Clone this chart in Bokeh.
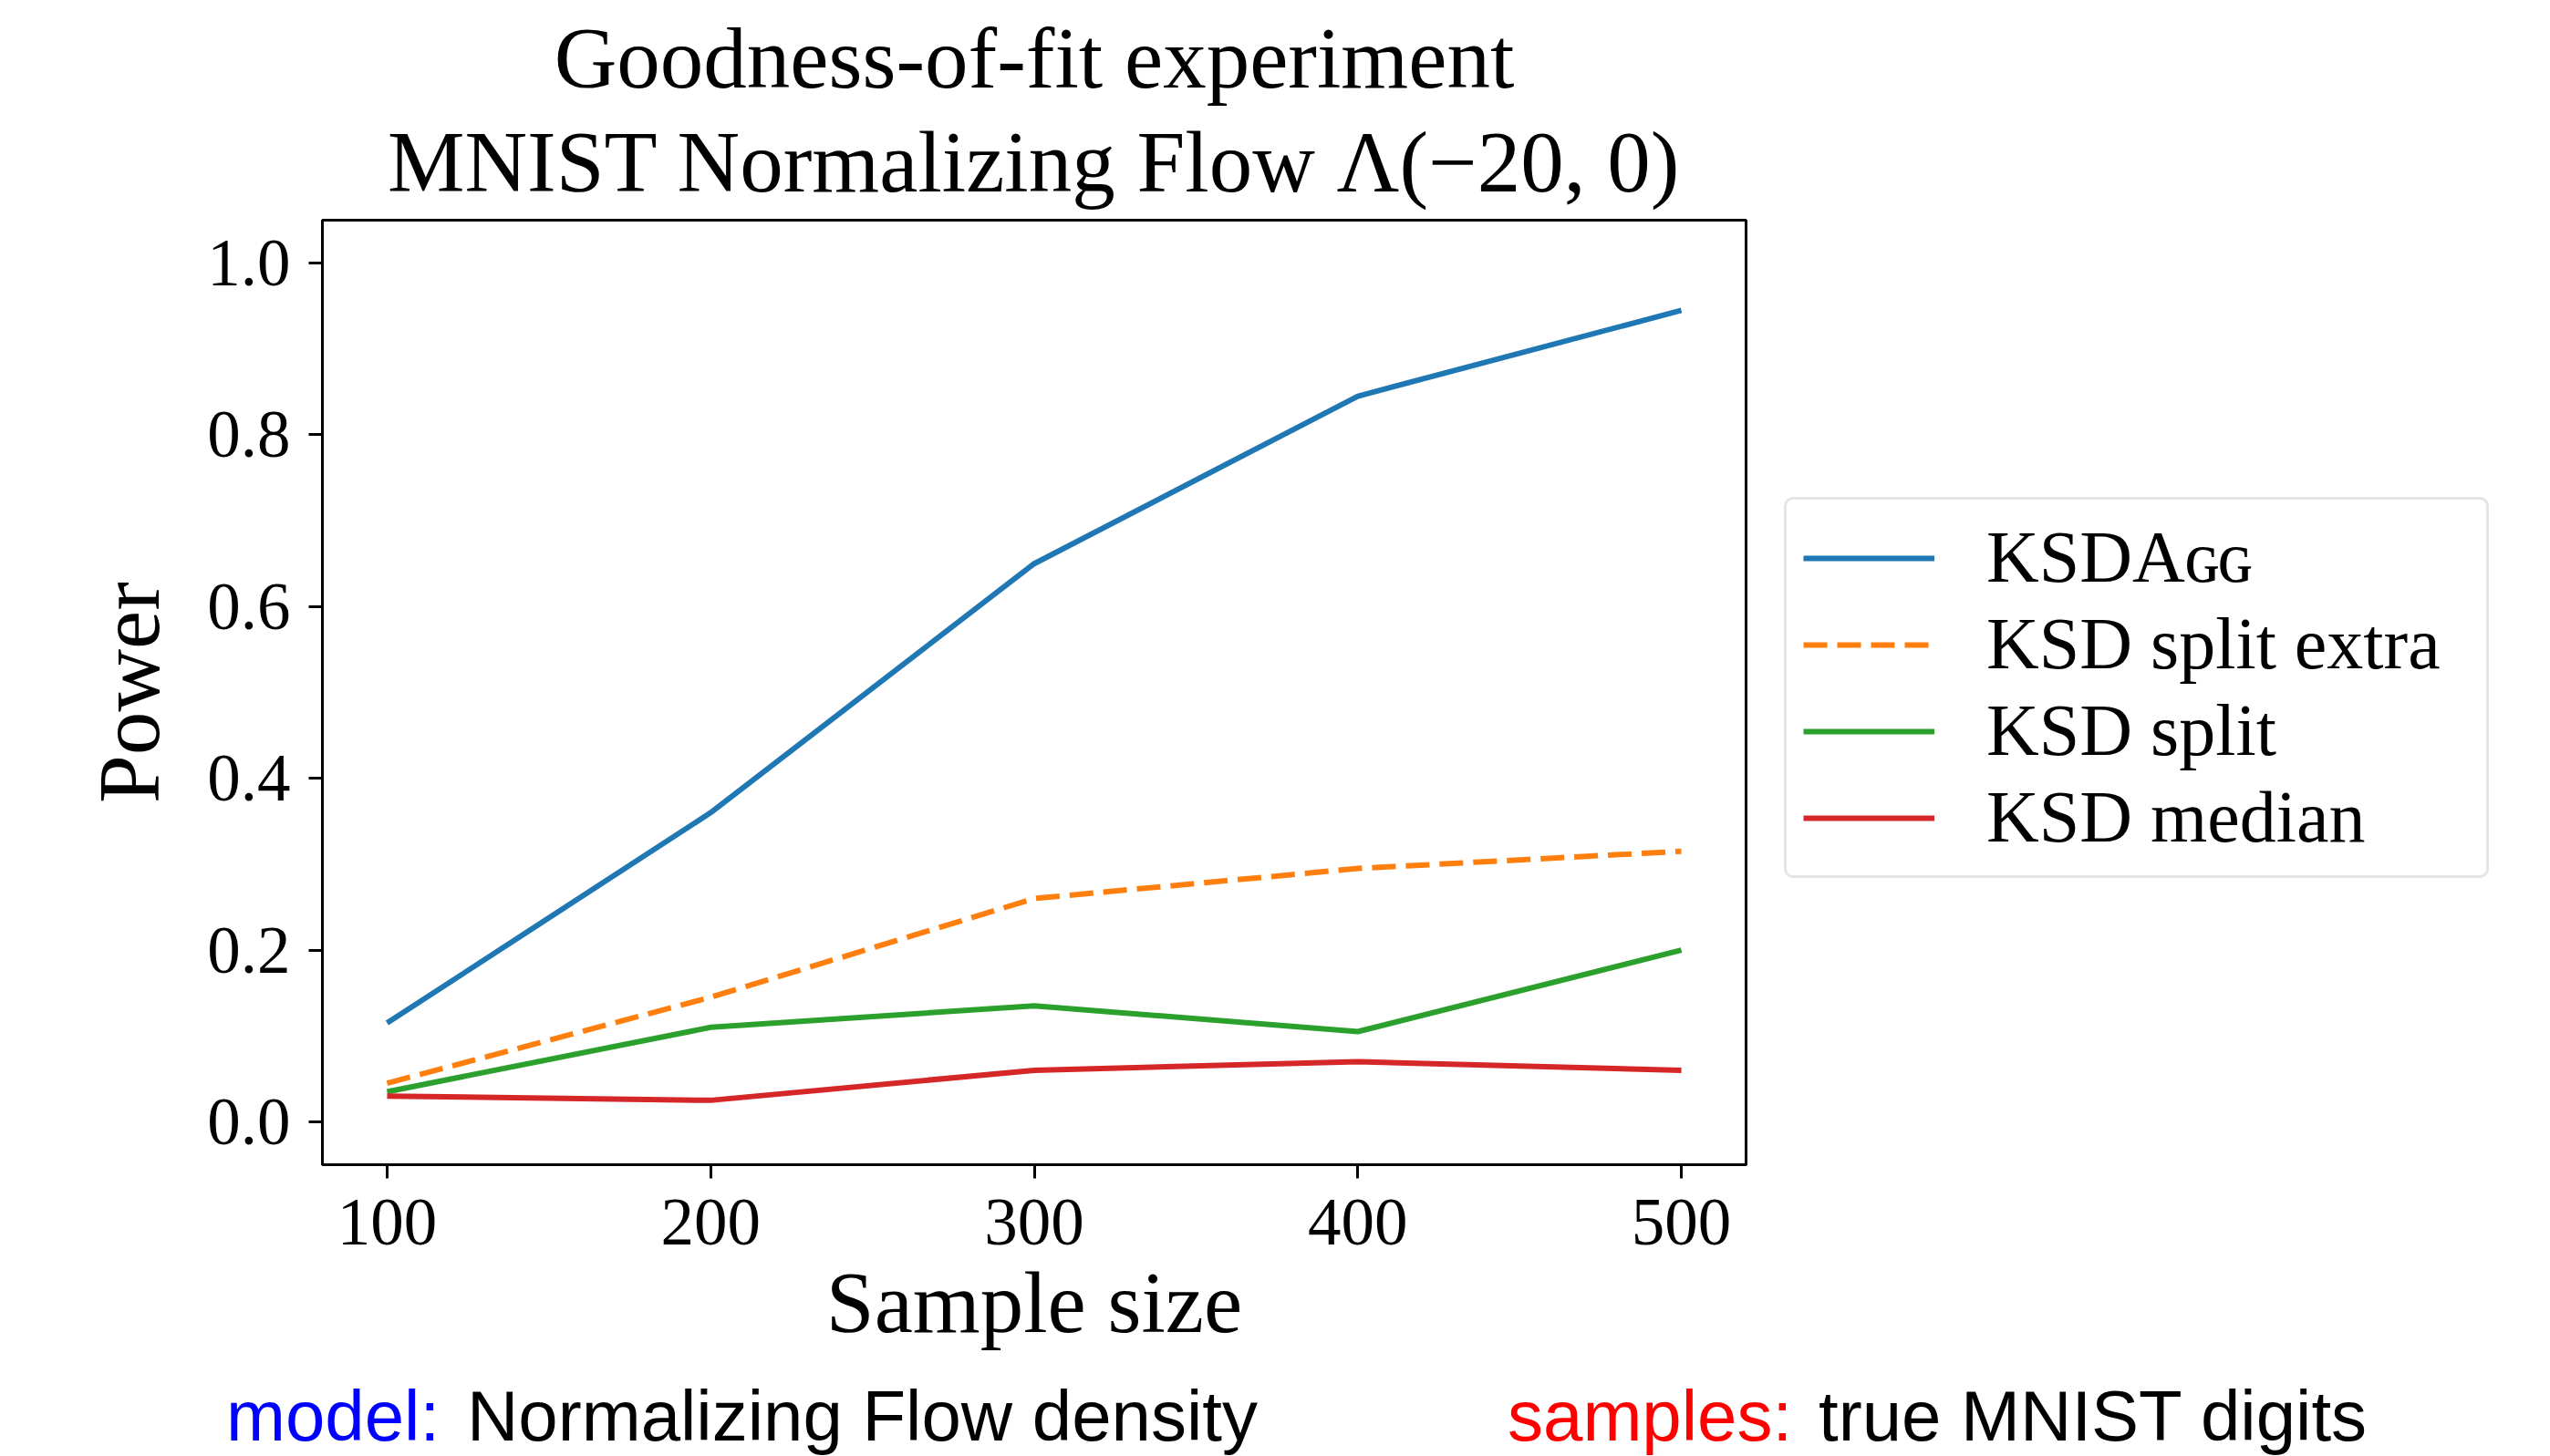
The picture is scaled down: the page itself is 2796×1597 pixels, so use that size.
from bokeh.plotting import figure
from bokeh.models import Legend, LegendItem, Range1d, PrintfTickFormatter, Title, Div
from bokeh.layouts import column
from bokeh.embed import file_html
from bokeh.resources import INLINE

# ---- data ----
sample_sizes = [100, 200, 300, 400, 500]
ksdagg = [0.115, 0.36, 0.65, 0.845, 0.945]
ksd_split_extra = [0.045, 0.145, 0.26, 0.295, 0.315]
ksd_split = [0.035, 0.11, 0.135, 0.105, 0.2]
ksd_median = [0.03, 0.025, 0.06, 0.07, 0.06]
series_labels = ["KSDA\u0262\u0262", "KSD split extra", "KSD split", "KSD median"]
x_ticks = [100, 200, 300, 400, 500]
y_ticks = [0.0, 0.2, 0.4, 0.6, 0.8, 1.0]
title_lines = ["Goodness-of-fit experiment", "MNIST Normalizing Flow \u039b(\u221220, 0)"]
footer_texts = ["model:", "Normalizing Flow density", "samples:", "true MNIST digits"]
footer_colors = ["#0000ff", "#000000", "#ff0000", "#000000"]
footer_x = [248, 512, 1653, 1994]

SERIF = "Liberation Serif"
SANS = "Liberation Sans"

W = 2788
FL, FT, FW, FH = 353, 241, 1561, 1036
MAIN_H = 1505
FOOT_H = 92

p = figure(frame_width=FW, frame_height=FH,
           min_border_left=FL, min_border_top=FT,
           min_border_right=W - FL - FW, min_border_bottom=MAIN_H - FT - FH,
           x_range=Range1d(80, 520), y_range=Range1d(-0.05, 1.05),
           output_backend="svg", toolbar_location=None)

p.grid.visible = False
p.outline_line_color = "black"
p.outline_line_width = 3
p.background_fill_color = "white"
p.border_fill_color = "white"

for ax in (p.xaxis[0], p.yaxis[0]):
    ax.axis_line_width = 3
    ax.axis_line_color = "black"
    ax.major_tick_line_width = 3
    ax.major_tick_out = 15
    ax.major_tick_in = 0
    ax.minor_tick_line_color = None
    ax.major_label_text_font = SERIF
    ax.major_label_text_font_size = "73px"
    ax.major_label_text_color = "black"
    ax.axis_label_text_font = SERIF
    ax.axis_label_text_font_size = "95px"
    ax.axis_label_text_font_style = "normal"
    ax.axis_label_text_color = "black"

p.xaxis.ticker = x_ticks
p.yaxis.ticker = y_ticks
p.yaxis.formatter = PrintfTickFormatter(format="%.1f")
p.xaxis.axis_label = "Sample size"
p.yaxis.axis_label = "Power"
p.xaxis.major_label_standoff = 23
p.yaxis.major_label_standoff = 20
p.xaxis.axis_label_standoff = 8
p.yaxis.axis_label_standoff = 29

r1 = p.line(sample_sizes, ksdagg, line_color="#1f77b4", line_width=6)
r2 = p.line(sample_sizes, ksd_split_extra, line_color="#ff7f0e", line_width=6, line_dash="26 11")
r3 = p.line(sample_sizes, ksd_split, line_color="#2ca02c", line_width=6)
r4 = p.line(sample_sizes, ksd_median, line_color="#d62728", line_width=6)

legend = Legend(items=[LegendItem(label=lab, renderers=[r])
                       for lab, r in zip(series_labels, [r1, r2, r3, r4])],
                location=(42, 314))
legend.label_text_font = SERIF
legend.label_text_font_size = "80px"
legend.label_text_color = "black"
legend.glyph_width = 144
legend.glyph_height = 60
legend.label_height = 60
legend.label_width = 530
legend.label_standoff = 57
legend.spacing = 4
legend.padding = 18
legend.margin = 0
legend.border_line_color = "#cccccc"
legend.border_line_width = 3
legend.background_fill_color = "white"
legend.background_fill_alpha = 1.0
if "border_radius" in Legend.properties():
    legend.border_radius = 10
p.add_layout(legend, "right")

# title (two lines)
p.add_layout(Title(text=title_lines[1], align="center", text_font=SERIF, standoff=21, offset=-7,
                   text_font_size="95px", text_font_style="normal", text_color="black"), "above")
p.add_layout(Title(text=title_lines[0], align="center", text_font=SERIF, standoff=-9, offset=-7,
                   text_font_size="95px", text_font_style="normal", text_color="black"), "above")

# footer line with model / samples description
spans = "".join(
    '<span style="position:absolute;left:%dpx;top:9px;color:%s;white-space:nowrap;">%s</span>'
    % (x, c, t) for t, c, x in zip(footer_texts, footer_colors, footer_x))
html = ('<div style="position:relative;width:%dpx;height:%dpx;font-family:\'%s\';'
        'font-size:78px;line-height:78px;overflow:hidden;">%s</div>' % (W, FOOT_H, SANS, spans))
foot = Div(text=html, width=W, height=FOOT_H, styles={"margin": "0", "padding": "0"})

layout = column(p, foot, spacing=0)
open("out.html", "w").write(file_html(layout, INLINE))
